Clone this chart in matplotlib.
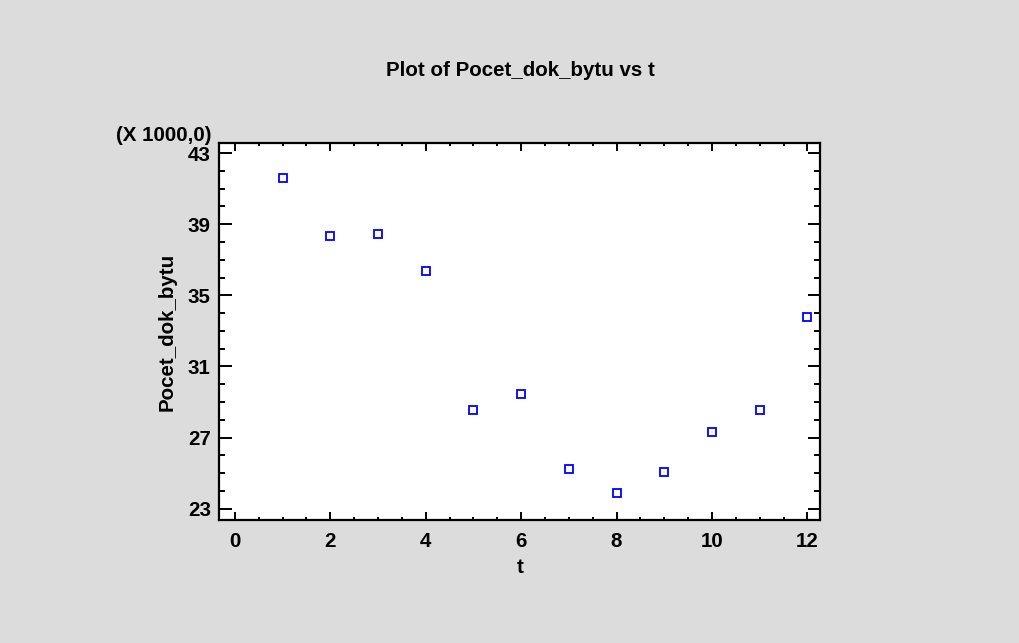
import matplotlib.pyplot as plt
from matplotlib.ticker import MultipleLocator

# ==========================================
# DATA (Pocet_dok_bytu in thousands)
# ==========================================

t = [1, 2, 3, 4, 5, 6, 7, 8, 9, 10, 11, 12]
pocet_dok_bytu = [41.6, 38.36, 38.46, 36.38, 28.55, 29.45,
                  25.23, 23.9, 25.06, 27.3, 28.55, 33.79]

x_ticks = [0, 2, 4, 6, 8, 10, 12]
y_ticks = [23, 27, 31, 35, 39, 43]

BG = "#dcdcdc"
FS = 14.8

plt.rcParams["font.family"] = ["Liberation Sans", "DejaVu Sans"]
plt.rcParams["font.weight"] = "bold"

fig = plt.figure(figsize=(10.19, 6.43), dpi=100, facecolor=BG)
ax = fig.add_axes([0.215, 0.1913, 0.590, 0.586])
ax.set_facecolor("white")

ax.plot(t, pocet_dok_bytu, linestyle="none", marker="s", markersize=5.2,
        markerfacecolor="white", markeredgecolor="#0000ff", markeredgewidth=1.3)

ax.set_xlim(-0.33, 12.27)
ax.set_ylim(22.36, 43.56)
ax.set_xticks(x_ticks)
ax.set_yticks(y_ticks)
ax.xaxis.set_minor_locator(MultipleLocator(0.5))
ax.yaxis.set_minor_locator(MultipleLocator(1))

ax.tick_params(axis="both", which="both", direction="in",
               top=True, right=True, width=1.4, labelsize=FS)
ax.tick_params(axis="x", which="major", length=6, pad=9)
ax.tick_params(axis="x", which="minor", length=2.5)
ax.tick_params(axis="y", which="major", length=9, pad=6)
ax.tick_params(axis="y", which="minor", length=4)

for spine in ax.spines.values():
    spine.set_linewidth(1.6)

ax.set_xlabel("t", fontsize=FS, fontweight="bold", labelpad=5)
ax.set_ylabel("Pocet_dok_bytu", fontsize=FS, fontweight="bold", labelpad=8)
fig.text(0.5108, 0.891, "Plot of Pocet_dok_bytu vs t", ha="center",
         va="center", fontsize=FS, fontweight="bold")
fig.text(0.114, 0.790, "(X 1000,0)", ha="left", va="center",
         fontsize=FS, fontweight="bold")

plt.savefig("out.png", dpi=100, facecolor=BG)
